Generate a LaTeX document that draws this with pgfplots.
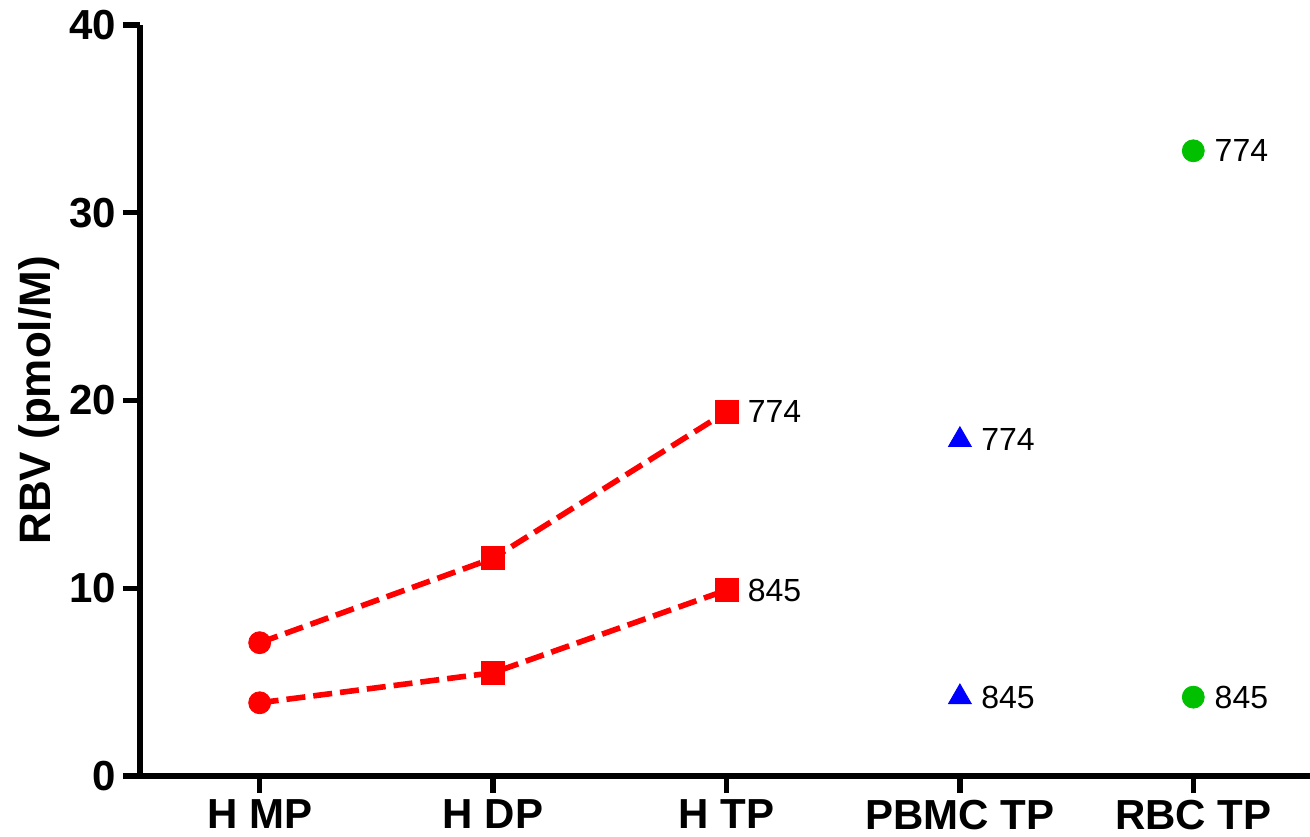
\documentclass[border=0pt]{standalone}
\usepackage{pgfplots}
\pgfplotsset{compat=1.18}
\usepackage{fontspec}
\setmainfont{Liberation Sans}
\definecolor{myred}{RGB}{255,0,0}
\definecolor{myblue}{RGB}{0,0,255}
\definecolor{mygreen}{RGB}{0,192,0}
\begin{document}
\begin{tikzpicture}[x=1pt,y=1pt]
\path[use as bounding box] (-70,-30) rectangle (585,388);
\begin{axis}[
  at={(0,0)}, anchor=south west,
  scale only axis, width=585pt, height=375.5pt,
  xmin=-0.5128, xmax=4.5, ymin=0, ymax=40,
  axis x line=bottom, axis y line=left,
  axis line style={-, line width=2.7pt, black},
  clip=false,
  xtick={0,1,2,3,4},
  xticklabels={H MP, H DP, H TP, PBMC TP, RBC TP},
  ytick={0,10,20,30,40},
  tick style={line width=2.7pt, black},
  tick align=outside,
  major tick length=8.5pt,
  minor tick num=0,
  /pgf/number format/assume math mode=true,
  ticklabel style={font=\bfseries\fontsize{21}{23}\selectfont},
  ylabel={RBV (pmol/M)},
  ylabel style={font=\bfseries\fontsize{22}{24}\selectfont, yshift=-2pt},
  nodes near coords style={anchor=west, inner sep=0pt, xshift=10.5pt, font=\fontsize{16}{18}\selectfont, text=black},
]
% dashed connecting lines
\addplot[myred, line width=2.8pt, dash pattern=on 9.5pt off 4pt, mark=none] coordinates {(0,7.1) (1,11.6) (2,19.4)};
\addplot[myred, line width=2.8pt, dash pattern=on 9.5pt off 4pt, mark=none] coordinates {(0,3.9) (1,5.5) (2,9.9)};
% H MP circles
\addplot[only marks, mark=*, mark size=5.5pt, mark options={draw=myred, fill=myred, solid}] coordinates {(0,7.1) (0,3.9)};
% H DP squares
\addplot[only marks, mark=square*, mark size=5.75pt, mark options={draw=myred, fill=myred, solid}] coordinates {(1,11.6) (1,5.5)};
% H TP squares with labels
\addplot[only marks, mark=square*, mark size=5.75pt, mark options={draw=myred, fill=myred, solid},
  nodes near coords, point meta=explicit symbolic] table[meta=label] {
x y label
2 19.4 774
2 9.9 845
};
% PBMC TP triangles
\addplot[only marks, mark=triangle*, mark size=6.6pt, mark options={draw=myblue, fill=myblue, solid},
  nodes near coords, point meta=explicit symbolic] table[meta=label] {
x y label
3 17.9 774
3 4.2 845
};
% RBC TP circles
\addplot[only marks, mark=*, mark size=5.5pt, mark options={draw=mygreen, fill=mygreen, solid},
  nodes near coords, point meta=explicit symbolic] table[meta=label] {
x y label
4 33.3 774
4 4.2 845
};
\end{axis}
\end{tikzpicture}
\end{document}
